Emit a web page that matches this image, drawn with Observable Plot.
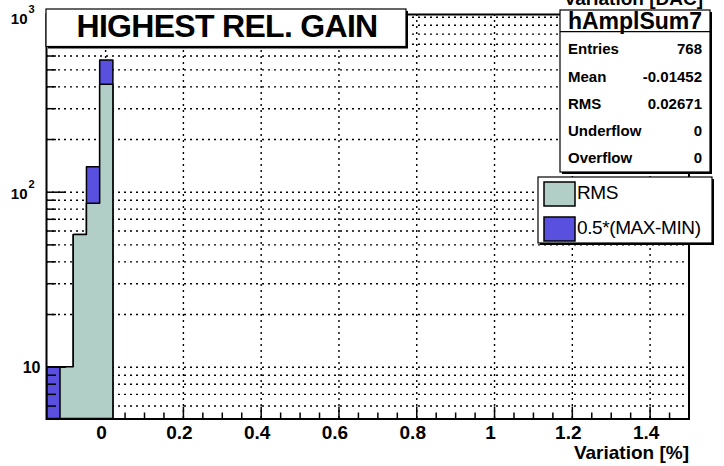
<!DOCTYPE html>
<html><head><meta charset="utf-8">
<script src="https://cdn.jsdelivr.net/npm/d3@7"></script>
<script src="https://cdn.jsdelivr.net/npm/@observablehq/plot@0.6"></script>
<style>
html,body{margin:0;padding:0;background:#fff;overflow:hidden}
#chart{position:relative;width:724px;height:466px}
</style></head><body><div id="chart"></div>
<script>
// ---- data ----
const binLow  = [-0.15, -0.116, -0.082, -0.048, -0.014];
const binHigh = [-0.116, -0.082, -0.048, -0.014, 0.02];
const halfMaxMinCounts = [10, 10, 57, 139, 566];   // 0.5*(MAX-MIN)
const rmsCounts        = [0, 10, 57, 86, 411];     // RMS
const xMajorTicks = [0, 0.2, 0.4, 0.6, 0.8, 1, 1.2, 1.4];
const xTickLabels = ["0", "0.2", "0.4", "0.6", "0.8", "1", "1.2", "1.4"];
const xMinorTicks = [0.05, 0.1, 0.15, 0.25, 0.3, 0.35, 0.45, 0.5, 0.55, 0.65, 0.7, 0.75,
                     0.85, 0.9, 0.95, 1.05, 1.1, 1.15, 1.25, 1.3, 1.35, 1.45];
const yMajorTicks = [10, 100, 1000];
const yPlainTicks = [10];          // labelled "10"
const yPowerTicks = [100, 1000];   // labelled "10" with exponent
const yExponents  = ["2", "3"];
const yMinorTicks = [6, 7, 8, 9, 20, 30, 40, 50, 60, 70, 80, 90, 200, 300, 400, 500, 600, 700, 800, 900];
const xDomain = [-0.152, 1.5];
const yDomain = [5.06, 1036];
const titleText = "HIGHEST REL. GAIN";
const xAxisTitle = "Variation [%]";
const topAxisTitle = "Variation [DAC]";
const statsName = "hAmplSum7";
const statsLabels = ["Entries", "Mean", "RMS", "Underflow", "Overflow"];
const statsValues = ["768", "-0.01452", "0.02671", "0", "0"];
const legendLabels = ["RMS", "0.5*(MAX-MIN)"];
const colRMS = "#b1cfc6";
const colMaxMin = "#5a50e0";

// ---- layout ----
const W = 724, H = 466;
const mL = 46, mR = 35.5, mT = 14, mB = 47.5;
const frameW = W - mL - mR, frameH = H - mT - mB;
const font = "'Liberation Sans', Arial, Helvetica, sans-serif";

function stepPoints(counts) {
  const pts = [];
  counts.forEach((c, i) => { if (c > 0) pts.push({x: binLow[i], y: c}); });
  const last = counts.length - 1;
  pts.push({x: binHigh[last], y: counts[last]});
  return pts;
}

const grid = {stroke: "black", strokeWidth: 1.4, strokeDasharray: "2,4", strokeOpacity: 1};
const boldLbl = {fontWeight: "bold", fill: "black"};

const chart = Plot.plot({
  width: W, height: H,
  marginLeft: mL, marginRight: mR, marginTop: mT, marginBottom: mB,
  style: {fontFamily: font, background: "white", color: "black"},
  x: {domain: xDomain, axis: null},
  y: {type: "log", domain: yDomain, axis: null},
  marks: [
    Plot.ruleY([...yMajorTicks, ...yMinorTicks], {...grid}),
    Plot.ruleX(xMajorTicks, {...grid}),
    Plot.tickX(xMajorTicks, {stroke: "black", strokeWidth: 1.5, insetTop: frameH - 12}),
    Plot.tickX(xMinorTicks, {stroke: "black", strokeWidth: 1.5, insetTop: frameH - 6}),
    Plot.areaY(stepPoints(halfMaxMinCounts), {x: "x", y1: yDomain[0], y2: "y", curve: "step-after",
      fill: colMaxMin, stroke: "black", strokeWidth: 1.5}),
    Plot.areaY(stepPoints(rmsCounts), {x: "x", y1: yDomain[0], y2: "y", curve: "step-after",
      fill: colRMS, stroke: "black", strokeWidth: 1.5}),
    Plot.tickY(yMajorTicks, {stroke: "black", strokeWidth: 1.5, insetRight: frameW - 20}),
    Plot.tickY(yMinorTicks, {stroke: "black", strokeWidth: 1.5, insetRight: frameW - 10}),
    Plot.frame({stroke: "black", strokeWidth: 2}),
    // y labels: "10", and "10" with a raised exponent for 10^2 and 10^3
    Plot.text(yPlainTicks, {x: xDomain[0], y: d => d, text: d => "10", dx: -6, dy: 1,
      textAnchor: "end", fontSize: 16, ...boldLbl}),
    Plot.text(yPowerTicks, {x: xDomain[0], y: d => d, text: d => "10", dx: -19, dy: 1.5,
      textAnchor: "end", fontSize: 15, ...boldLbl}),
    Plot.text(yPowerTicks, {x: xDomain[0], y: d => d, text: (d, i) => yExponents[i], dx: -18, dy: -8,
      textAnchor: "start", fontSize: 11, ...boldLbl}),
    Plot.axisX(xMajorTicks, {tickSize: 0, tickPadding: 6, fontSize: 19, fontWeight: "bold", dx: -4, label: null,
      tickFormat: d => xTickLabels[xMajorTicks.indexOf(d)]}),
    Plot.text([xAxisTitle], {frameAnchor: "bottom-right", dy: 40, textAnchor: "end", lineAnchor: "bottom",
      fontSize: 19, ...boldLbl})
  ]
});
document.getElementById("chart").appendChild(chart);

// ---- annotation boxes (title, stats, legend) ----
const svg = d3.select(chart);
const g = svg.append("g").attr("font-family", font).attr("fill", "black").attr("text-anchor", "start");

// top title, cut off by the top edge as in the reference
g.append("text").attr("x", 703).attr("y", 5).attr("text-anchor", "end")
  .attr("font-size", 19).attr("font-weight", "bold").text(topAxisTitle);

function box(x, y, w, h) {
  g.append("rect").attr("x", x + 2).attr("y", y + 2).attr("width", w).attr("height", h).attr("fill", "black");
  g.append("rect").attr("x", x).attr("y", y).attr("width", w).attr("height", h)
    .attr("fill", "white").attr("stroke", "black").attr("stroke-width", 1.2);
}

// title box
box(46, 9, 360, 37.5);
g.append("text").attr("x", 227).attr("y", 36.7).attr("text-anchor", "middle")
  .attr("font-size", 32).attr("font-weight", "bold").attr("letter-spacing", -0.7).text(titleText);

// stats box
box(560, 10, 150, 162);
g.append("line").attr("x1", 560).attr("x2", 710).attr("y1", 31.7).attr("y2", 31.7)
  .attr("stroke", "black").attr("stroke-width", 1.2);
g.append("text").attr("x", 635).attr("y", 28.5).attr("text-anchor", "middle")
  .attr("font-size", 23).attr("font-weight", "bold").text(statsName);
const rowBase = [54.3, 81.7, 108.8, 136.2, 163.4];
statsLabels.forEach((s, i) => {
  g.append("text").attr("x", 568).attr("y", rowBase[i]).attr("text-anchor", "start")
    .attr("font-size", 15).attr("font-weight", "bold").text(s);
  g.append("text").attr("x", 702).attr("y", rowBase[i]).attr("text-anchor", "end")
    .attr("font-size", 15).attr("font-weight", "bold").text(statsValues[i]);
});

// legend
box(538, 177, 174, 66);
[colRMS, colMaxMin].forEach((c, i) => {
  g.append("rect").attr("x", 544).attr("y", 182 + i * 35).attr("width", 31).attr("height", 24)
    .attr("fill", c).attr("stroke", "black").attr("stroke-width", 1.5);
  g.append("text").attr("x", 577).attr("y", 199 + i * 35).attr("text-anchor", "start")
    .attr("font-size", 19).attr("letter-spacing", -0.4).text(legendLabels[i]);
});
</script></body></html>
